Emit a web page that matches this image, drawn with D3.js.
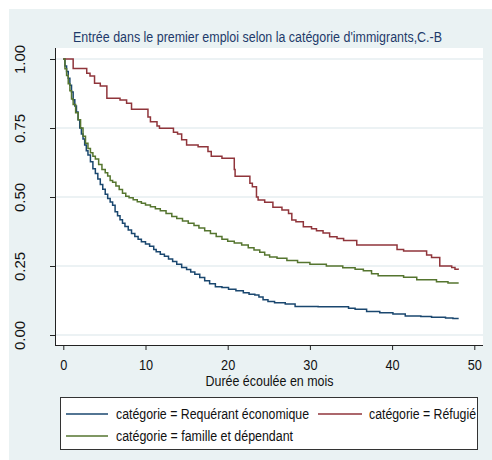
<!DOCTYPE html>
<html>
<head>
<meta charset="utf-8">
<script src="https://cdn.jsdelivr.net/npm/d3@7/dist/d3.min.js"></script>
<style>
  html, body { margin: 0; padding: 0; background: #ffffff; }
  svg { display: block; font-family: "Liberation Sans", Arial, sans-serif; }
</style>
</head>
<body>
<svg id="chart" width="492" height="460"></svg>
<script>
// Kaplan-Meier estimates: [months elapsed, proportion not yet employed]
const requerantSteps = [
  [0,1.0],[0.2,0.975],[0.4,0.955],[0.6,0.93],[0.8,0.905],[1.0,0.88],[1.2,0.852],[1.4,0.83],
  [1.6,0.808],[1.8,0.78],[2.0,0.75],[2.2,0.728],[2.4,0.71],[2.6,0.688],[2.8,0.668],[3.0,0.652],
  [3.3,0.628],[3.6,0.602],[3.9,0.585],[4.2,0.565],[4.5,0.545],[4.8,0.528],[5.1,0.51],[5.4,0.495],
  [5.7,0.482],[6.0,0.47],[6.3,0.447],[6.6,0.432],[6.9,0.418],[7.2,0.405],[7.5,0.393],[7.9,0.38],
  [8.3,0.368],[8.7,0.357],[9.1,0.347],[9.5,0.338],[10.0,0.33],[10.5,0.322],[11.0,0.31],[11.3,0.302],
  [11.8,0.293],[12.3,0.285],[12.8,0.275],[13.3,0.266],[13.8,0.256],[14.4,0.245],[15.0,0.237],
  [15.5,0.228],[16.0,0.22],[16.6,0.208],[17.2,0.197],[17.8,0.186],[18.5,0.175],[19.3,0.172],
  [20.1,0.166],[21.0,0.16],[21.9,0.153],[22.6,0.148],[23.3,0.145],[23.8,0.138],[24.3,0.128],
  [24.9,0.121],[25.7,0.117],[27.0,0.112],[28.2,0.103],[31.0,0.102],[34.7,0.097],[35.5,0.093],
  [36.9,0.085],[38.5,0.081],[40.1,0.076],[41.6,0.069],[43.5,0.067],[44.8,0.064],[46.5,0.062],
  [47.4,0.060],[48.1,0.060]
];
const refugieSteps = [
  [0,1.0],[1.2,0.966],[2.85,0.948],[3.25,0.938],[3.8,0.912],[4.5,0.902],[5.3,0.858],[6.9,0.851],
  [7.7,0.84],[8.3,0.818],[10.3,0.79],[10.6,0.773],[11.4,0.757],[11.7,0.749],[13.4,0.735],
  [13.9,0.728],[14.4,0.707],[15.0,0.688],[16.4,0.682],[17.6,0.665],[18.0,0.648],[19.3,0.64],
  [20.8,0.6],[20.9,0.575],[22.7,0.55],[23.0,0.537],[23.5,0.50],[23.7,0.489],[24.5,0.481],
  [25.5,0.463],[26.6,0.453],[27.4,0.44],[27.8,0.417],[28.3,0.41],[29.2,0.392],[30.2,0.385],
  [30.8,0.378],[31.6,0.37],[32.4,0.356],[33.3,0.35],[34.1,0.342],[35.7,0.326],[40.6,0.31],
  [41.4,0.304],[44.2,0.29],[44.8,0.281],[45.8,0.25],[47.25,0.245],[47.65,0.238],[48.05,0.236]
];
const familleSteps = [
  [0,1.0],[0.2,0.965],[0.4,0.94],[0.6,0.91],[0.8,0.885],[1.0,0.855],[1.2,0.835],[1.5,0.805],
  [1.8,0.78],[2.1,0.75],[2.4,0.72],[2.7,0.695],[3.0,0.676],[3.3,0.66],[3.6,0.648],[3.9,0.638],
  [4.3,0.618],[4.7,0.6],[5.1,0.588],[5.4,0.576],[5.7,0.56],[6.0,0.553],[6.4,0.54],[6.8,0.527],
  [7.2,0.514],[7.6,0.503],[8.0,0.497],[8.5,0.49],[9.0,0.483],[9.5,0.477],[10.0,0.471],
  [10.6,0.465],[11.2,0.457],[11.8,0.45],[12.5,0.44],[13.2,0.429],[13.8,0.422],[14.5,0.413],
  [15.2,0.405],[15.9,0.397],[16.5,0.388],[17.2,0.378],[17.9,0.368],[18.6,0.357],[19.3,0.347],
  [20.0,0.34],[20.8,0.333],[21.7,0.326],[22.5,0.316],[23.2,0.308],[23.9,0.300],[24.5,0.29],
  [25.1,0.283],[26.0,0.278],[27.2,0.27],[28.5,0.263],[30.0,0.256],[32.0,0.25],[34.0,0.244],
  [35.5,0.238],[36.5,0.233],[37.5,0.222],[38.3,0.215],[41.4,0.209],[43.0,0.2],[45.4,0.193],
  [46.8,0.188],[48.1,0.188]
];

const seriesNames = ["catégorie = Requérant économique", "catégorie = Réfugié", "catégorie = famille et dépendant"];
const seriesColors = ["#1a476f", "#90353b", "#55752f"];
const xTicks = [0, 10, 20, 30, 40, 50];
const yTicks = [0, 0.25, 0.5, 0.75, 1];
const chartTitle = "Entrée dans le premier emploi selon la catégorie d'immigrants,C.-B";
const xTitle = "Durée écoulée en mois";

const svg = d3.select("#chart");

// graph region and plot region
svg.append("rect").attr("x", 9).attr("y", 9).attr("width", 483).attr("height", 451).attr("fill", "#eaf2f3");
const plotL = 55, plotR = 483, plotT = 48, plotB = 345;
svg.append("rect").attr("x", plotL).attr("y", plotT).attr("width", plotR - plotL).attr("height", plotB - plotT).attr("fill", "#ffffff");

const x = d3.scaleLinear().domain([0, 50]).range([63.3, 474.3]);
const y = d3.scaleLinear().domain([0, 1]).range([335, 59]);

// horizontal grid
svg.append("g").selectAll("line").data(yTicks).join("line")
  .attr("x1", plotL).attr("x2", plotR)
  .attr("y1", d => y(d)).attr("y2", d => y(d))
  .attr("stroke", "#e6eef0").attr("stroke-width", 1.5);

// title
svg.append("text").attr("x", 73).attr("y", 42)
  .attr("font-size", 14).attr("fill", "#1e3a6a")
  .attr("textLength", 369).attr("lengthAdjust", "spacingAndGlyphs")
  .text(chartTitle);

// y axis
const yAxis = svg.append("g").attr("transform", `translate(${plotL},0)`)
  .call(d3.axisLeft(y).tickValues(yTicks).tickFormat(d3.format(".2f")).tickSize(5).tickPadding(0));
yAxis.select(".domain").attr("d", `M0.5,${plotT}V${plotB}`).attr("stroke", "#222");
yAxis.selectAll(".tick line").attr("stroke", "#222");
yAxis.selectAll(".tick text")
  .attr("x", null).attr("dy", null)
  .attr("font-size", 15).attr("fill", "#111")
  .attr("text-anchor", "middle")
  .attr("transform", "translate(-30,0) rotate(-90)")
  .attr("y", 0);

// x axis
const xAxis = svg.append("g").attr("transform", `translate(0,${plotB})`)
  .call(d3.axisBottom(x).tickValues(xTicks).tickSize(5).tickPadding(0));
xAxis.select(".domain").attr("d", `M${plotL},0.5H${plotR}`).attr("stroke", "#222");
xAxis.selectAll(".tick line").attr("stroke", "#222");
xAxis.selectAll(".tick text")
  .attr("y", 25).attr("dy", null)
  .attr("font-size", 15).attr("fill", "#111")
  .each(function () {
    const w = this.getComputedTextLength();
    d3.select(this).attr("textLength", w * 0.85).attr("lengthAdjust", "spacingAndGlyphs");
  });

svg.append("text").attr("x", 269.5).attr("y", 386)
  .attr("text-anchor", "middle").attr("font-size", 14).attr("fill", "#111")
  .attr("textLength", 128).attr("lengthAdjust", "spacingAndGlyphs")
  .text(xTitle);

// survival curves
const line = d3.line().x(d => x(d[0])).y(d => y(d[1])).curve(d3.curveStepAfter);
[requerantSteps, refugieSteps, familleSteps].forEach((steps, i) => {
  svg.append("path").datum(steps)
    .attr("fill", "none").attr("stroke", seriesColors[i])
    .attr("stroke-width", 1.5).attr("stroke-linejoin", "miter")
    .attr("d", line);
});

// legend
svg.append("rect").attr("x", 60.5).attr("y", 397.5).attr("width", 417).attr("height", 52)
  .attr("fill", "#ffffff").attr("stroke", "#333").attr("stroke-width", 1);
const legendItems = [
  { sx: 66, ex: 108, tx: 116, cy: 414, w: 193 },
  { sx: 318, ex: 362, tx: 369, cy: 414, w: 107 },
  { sx: 66, ex: 108, tx: 116, cy: 436, w: 177 }
];
legendItems.forEach((it, i) => {
  svg.append("line").attr("x1", it.sx).attr("x2", it.ex).attr("y1", it.cy).attr("y2", it.cy)
    .attr("stroke", seriesColors[i]).attr("stroke-width", 1.5);
  svg.append("text").attr("x", it.tx).attr("y", it.cy + 5)
    .attr("font-size", 14).attr("fill", "#111")
    .attr("textLength", it.w).attr("lengthAdjust", "spacingAndGlyphs")
    .text(seriesNames[i]);
});
</script>
</body>
</html>
